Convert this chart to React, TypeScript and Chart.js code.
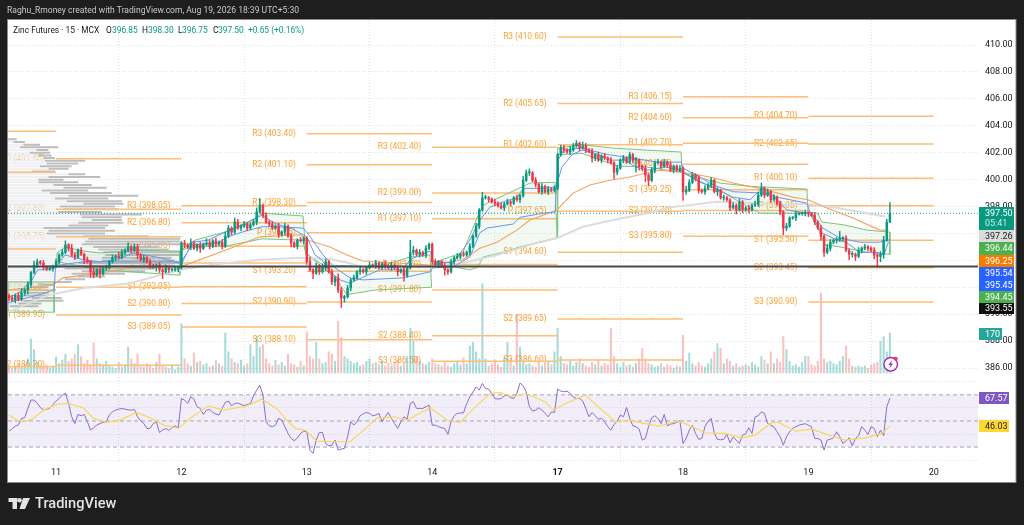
import React, { useEffect, useRef } from "react";
import Chart from "chart.js/auto";

const barsPerDayTicks = [15, 55, 95, 135, 175, 215, 255, 295];
const dayLabels = ["11", "12", "13", "14", "17", "18", "19", "20"];
const priceTicks = [386, 388, 390, 392, 394, 396, 398, 400, 402, 404, 406, 408, 410];
const rsiTicks = [80, 60, 40, 20];

const closes = [
391.2,391.05,391.4,391.1,391.6,391.8,392.2,393.1,393.65,393.9,393.8,393.5,393.35,393.4,393.55,
393.9,394.4,394.6,395.15,394.9,394.4,394.25,394.75,394.45,394.05,393.9,393.15,392.9,393.3,393.0,393.45,393.45,393.9,394.2,394.3,394.2,394.6,394.75,395.0,394.75,395.0,394.4,394.05,394.2,393.9,393.6,393.5,393.65,393.3,393.15,393.45,393.3,393.3,393.35,393.45,
395.3,395.15,395.0,395.3,394.9,395.15,394.9,395.2,395.3,395.05,395.45,395.2,395.35,395.05,395.8,396.4,396.1,396.85,396.4,396.55,396.7,396.4,396.65,396.85,397.6,398.1,397.35,396.85,396.7,396.4,396.55,395.9,396.1,396.55,395.8,395.3,395.05,395.5,395.45,395.65,
393.9,393.3,393.05,393.6,393.15,393.45,393.9,393.15,392.4,392.7,391.8,391.2,391.3,391.95,392.55,392.7,393.15,393.3,393.15,393.45,393.65,393.6,393.8,393.45,393.75,393.6,393.45,393.65,393.45,393.15,393.3,392.85,393.45,394.6,394.75,394.45,394.6,394.4,394.9,395.2,
393.9,393.65,393.9,393.6,393.3,393.15,393.9,394.2,394.3,394.45,394.4,394.6,395.05,395.8,396.55,397.75,398.65,398.65,398.55,398.35,398.25,398.05,397.9,398.2,398.35,398.25,398.65,398.5,398.8,399.95,400.5,400.5,399.95,399.65,399.1,399.5,399.1,399.3,399.2,399.35,
401.85,402.35,402.2,402.05,402.2,402.5,402.7,402.35,402.5,402.2,402.1,401.6,401.85,401.45,401.75,401.6,401.45,401.25,400.55,400.85,401.45,401.6,401.3,401.85,401.45,401.45,401.0,400.85,400.35,399.95,400.7,401.25,401.3,401.0,401.3,401.1,400.7,401.0,400.7,400.85,
399.1,399.2,399.8,400.35,400.1,399.2,399.1,399.35,399.6,399.95,399.1,399.2,398.65,398.65,398.5,397.9,398.1,397.75,398.35,397.75,397.9,397.75,398.1,398.2,398.85,399.35,398.85,399.1,398.5,398.7,398.2,397.6,396.4,396.55,397.15,397.15,397.45,397.45,397.5,397.5,
397.45,397.35,396.85,396.4,395.8,394.6,394.9,395.35,395.5,395.5,395.65,395.65,394.75,394.45,394.45,394.3,394.75,394.9,395.0,394.9,394.75,394.4,394.3,394.45,395.5,396.85,397.5];

const opens = [
391.4,391.2,391.05,391.4,391.1,391.6,391.8,392.2,393.1,393.65,393.9,393.8,393.5,393.35,393.4,
393.55,393.9,394.4,394.6,395.15,394.9,394.4,394.25,394.75,394.45,394.05,393.9,393.15,392.9,393.3,393.0,393.45,393.45,393.9,394.2,394.3,394.2,394.6,394.75,395.0,394.75,395.0,394.4,394.05,394.2,393.9,393.6,393.5,393.65,393.3,393.15,393.45,393.3,393.3,393.35,
393.45,395.3,395.15,395.0,395.3,394.9,395.15,394.9,395.2,395.3,395.05,395.45,395.2,395.35,395.05,395.8,396.4,396.1,396.85,396.4,396.55,396.7,396.4,396.65,396.85,397.6,398.1,397.35,396.85,396.7,396.4,396.55,395.9,396.1,396.55,395.8,395.3,395.05,395.5,395.45,
395.65,393.9,393.3,393.05,393.6,393.15,393.45,393.9,393.15,392.4,392.7,391.8,391.2,391.3,391.95,392.55,392.7,393.15,393.3,393.15,393.45,393.65,393.6,393.8,393.45,393.75,393.6,393.45,393.65,393.45,393.15,393.3,392.85,393.45,394.6,394.75,394.45,394.6,394.4,394.9,
395.2,393.9,393.65,393.9,393.6,393.3,393.15,393.9,394.2,394.3,394.45,394.4,394.6,395.05,395.8,396.55,397.75,398.65,398.65,398.55,398.35,398.25,398.05,397.9,398.2,398.35,398.25,398.65,398.5,398.8,399.95,400.5,400.5,399.95,399.65,399.1,399.5,399.1,399.3,399.2,
399.35,401.85,402.35,402.2,402.05,402.2,402.5,402.7,402.35,402.5,402.2,402.1,401.6,401.85,401.45,401.75,401.6,401.45,401.25,400.55,400.85,401.45,401.6,401.3,401.85,401.45,401.45,401.0,400.85,400.35,399.95,400.7,401.25,401.3,401.0,401.3,401.1,400.7,401.0,400.7,
400.85,399.1,399.2,399.8,400.35,400.1,399.2,399.1,399.35,399.6,399.95,399.1,399.2,398.65,398.65,398.5,397.9,398.1,397.75,398.35,397.75,397.9,397.75,398.1,398.2,398.85,399.35,398.85,399.1,398.5,398.7,398.2,397.6,396.4,396.55,397.15,397.15,397.45,397.45,397.5,
397.5,397.45,397.35,396.85,396.4,395.8,394.6,394.9,395.35,395.5,395.5,395.65,395.65,394.75,394.45,394.45,394.3,394.75,394.9,395.0,394.9,394.75,394.4,394.3,394.45,395.5,396.85];

const upperWicks = [
.1,.2,.1,.2,.3,.1,.2,.1,.3,.2,.1,.2,.1,.2,.1,
.2,.1,.2,.3,.1,.3,.2,.1,.2,.1,.2,.1,.3,.1,.2,.1,.2,.1,.2,.1,.3,.2,.1,.3,.1,.2,.2,.1,.2,.1,.2,.1,.1,.2,.1,.2,.1,.1,.2,.1,
.1,.2,.1,.3,.1,.1,.2,.1,.3,.2,.1,.2,.1,.2,.3,.2,.1,.3,.2,.1,.2,.1,.1,.2,.3,.5,.1,.2,.1,.2,.1,.2,.1,.2,.1,.2,.1,.1,.2,.1,
.1,.3,.1,.2,.1,.3,.2,.1,.2,.1,.3,.2,.1,.2,.1,.2,.1,.2,.1,.1,.2,.1,.2,.1,.1,.2,.1,.2,.1,.2,.1,.2,.1,.9,.3,.1,.2,.1,.2,.1,
.1,.2,.1,.1,.2,.1,.2,.1,.2,.1,.2,.1,.2,.1,.2,.1,.4,.2,.1,.1,.2,.1,.2,.1,.2,.1,.1,.2,.1,.3,.2,.3,.1,.2,.1,.2,.1,.2,.1,.2,
.1,.2,.2,.1,.3,.2,.2,.1,.3,.2,.1,.2,.1,.2,.1,.2,.1,.2,.1,.2,.1,.2,.1,.2,.1,.2,.1,.1,.2,.1,.2,.1,.2,.1,.2,.1,.2,.1,.1,.2,
.1,.3,.2,.2,.1,.2,.1,.2,.1,.2,.1,.2,.1,.2,.1,.1,.2,.1,.2,.1,.1,.2,.1,.2,.2,.4,.1,.2,.1,.2,.1,.2,.1,.2,.1,.1,.2,.1,.1,.2,
.1,.1,.2,.1,.2,.1,.3,.2,.1,.2,.5,.1,.2,.1,.2,.1,.2,.1,.2,.1,.1,.2,.1,.2,.3,.2,.8];

const lowerWicks = [
.2,.1,.2,.1,.1,.2,.3,.2,.1,.2,.1,.2,.1,.1,.2,
.1,.2,.1,.1,.2,.1,.2,.1,.1,.3,.1,.4,.2,.1,.3,.1,.2,.1,.1,.2,.1,.1,.2,.1,.2,.1,.3,.1,.2,.1,.2,.1,.3,.2,.5,.1,.2,.1,.1,.2,
.1,.2,.1,.2,.1,.2,.3,.1,.1,.2,.1,.2,.1,.2,.1,.1,.2,.1,.1,.2,.1,.2,.1,.1,.2,.1,.2,.1,.2,.1,.1,.2,.1,.2,.1,.3,.1,.2,.1,.2,
.2,.1,.4,.1,.2,.1,.2,.1,.2,.3,.2,.7,.3,.1,.2,.1,.1,.2,.1,.2,.1,.1,.2,.1,.1,.2,.1,.2,.1,.3,.1,.4,.1,.1,.2,.1,.2,.1,.2,.1,
.2,.1,.2,.1,.4,.2,.1,.2,.1,.2,.1,.1,.2,.1,.1,.2,.1,.1,.2,.1,.2,.1,.1,.2,.1,.2,.1,.1,.2,.1,.1,.2,.1,.2,.1,.2,.1,.2,.1,.1,
.1,.1,.2,.1,.2,.1,.1,.2,.1,.2,.1,.3,.2,.1,.2,.1,.2,.1,.5,.2,.1,.2,.1,.1,.2,.9,.3,.2,.5,.4,.1,.2,.1,.2,.1,.2,.1,.2,.1,.1,
.65,.2,.1,.1,.2,.2,.1,.2,.1,.2,.1,.3,.1,.2,.1,.2,.1,.3,.1,.2,.1,.2,.1,.1,.2,.1,.2,.1,.2,.1,.1,.2,.5,.2,.1,.1,.2,.1,.1,.2,
.2,.1,.2,.1,.3,.3,.1,.2,.1,.2,.1,.2,.1,.4,.2,.3,.1,.2,.1,.2,.1,.3,.8,.4,.3,.1,.05];

const volumes = [
30,20,25,40,22,35,60,145,100,45,30,25,35,20,30,
68,40,55,80,50,60,80,120,70,40,55,30,128,60,40,35,50,30,25,20,45,25,35,110,60,40,80,30,25,40,30,20,45,80,30,25,20,35,15,25,
210,60,40,30,85,45,50,35,40,25,30,55,40,30,170,90,60,45,40,55,30,40,120,70,155,110,120,60,40,30,55,35,45,30,80,40,35,25,50,30,
175,70,60,130,60,40,45,90,80,50,220,150,70,60,50,40,45,30,35,50,60,40,45,35,50,30,40,30,45,55,30,40,70,190,135,70,50,40,35,45,
60,40,35,30,45,30,25,40,50,35,65,40,115,130,90,60,380,60,30,40,55,35,25,65,130,60,30,250,110,45,35,40,30,25,45,30,40,50,35,90,
190,70,40,35,50,30,45,60,40,30,25,45,35,55,30,40,35,190,70,40,25,45,30,35,25,40,60,105,60,40,35,25,30,40,25,35,30,20,30,25,
160,50,85,40,30,45,30,25,40,60,90,125,105,40,60,50,30,40,25,30,35,30,45,35,25,70,55,40,90,40,60,45,155,100,50,30,35,25,45,70,
70,35,30,50,340,60,45,50,40,35,50,70,115,60,30,25,30,25,30,20,35,40,45,135,155,90,170];

const rsiValues = [
42.2,44,46,47,52,52.5,59.6,66,66,63.5,60.3,58.5,59,59.6,62.5,
65.2,67.2,69.8,71.3,63.4,53.2,48,55,54,55,49.4,43,44.8,46.8,48,49,49.4,54.5,57,58.3,59,59.6,59,58.5,58.3,58.8,53.2,50,48,44.3,44.3,48,49.4,41.2,43,44.3,42.8,44.8,46.3,44.8,
67.2,66,63.4,68.5,66.7,60.9,59.6,55,58.3,58.8,56.5,55.3,54.5,59.6,64.2,65.2,61.6,63.4,63.7,62.7,61.6,62.7,63.2,69.3,73.6,77.4,69.8,49.4,46.3,45.6,46.8,52,50.7,45.6,40.5,36.6,34.8,37,40.5,42.2,
41.7,27.7,25.2,35.4,41.2,41.2,32.8,31,31.5,35.4,27.7,28.5,29,37.9,49.4,46.8,49.4,54,55.5,56.5,55.8,54,54.5,55.8,49.4,53.2,56.5,52,48,44.3,49.4,53.2,51.4,63.4,64.7,59.6,59.6,59.6,60.9,62.1,
46.8,46.8,45.6,44.8,44.3,39.7,49.4,54,55.8,56,56.3,63.4,68.5,72.3,76.2,73.6,78.7,74.9,74.4,71,67.2,66.7,67.2,69.3,69.8,67.8,67.2,71,79,77,72.3,60.9,57.6,58.3,60.1,58.3,55.8,53.2,57,56.5,
74.4,72.9,72.3,72.9,71,68.3,67.2,67.2,65.2,59.6,53.2,56.5,54,51.4,52,49.4,45.6,43,47.4,49.9,54.5,53.2,60.4,52,46.3,45.6,43.8,35.4,36.6,45.6,52.4,54,52,48,55,46.3,47.6,48,49,50.4,
32.8,36.6,43,46.8,40.5,36,36.6,45.6,49.9,52,40.5,36,35.6,36,39.7,33.3,37.7,35.4,32.8,39.2,40.2,44.8,40.5,53.2,54,57,55.8,48,46.8,45.6,41.7,37.9,31.5,37.9,41.7,44.3,45.6,46.8,47.4,47.9,
46.8,45.6,36.6,36.6,35.4,27.7,35.4,36,37.1,41.7,37.9,32.8,34.6,37.1,31,36.6,38.7,45.6,43,39.7,45.6,44.3,37.9,43,38.7,60.9,67.57];

const rsiMaBars = [0,2.4,5.6,7.8,11,15.2,18.9,23.7,26.9,31.2,35.4,40.7,45,49.3,54,57.8,63.6,68.4,75.9,80.6,85.4,88.6,91.3,94.5,98.2,103.5,108.8,112,117.3,122.7,126.9,134.4,139.7,143.9,148.2,153.5,156.7,160.5,164.7,171,173.7,177.5,183.8,189.2,193.4,197.7,203,207.2,213.6,216.8,222.1,228.5,233.8,238,243.4,245.5,250.8,256.1,261.5,266.8,273.1,278.5,281];
const rsiMaValues = [54.5,50.7,50,52,58.3,62.7,63.4,60.1,52,48.9,50.7,56.5,52.4,46.8,44.3,52,61.6,58.3,61.6,66.7,59.6,50.7,44.3,43,34.6,34.1,34.1,40.5,52,53.2,50.7,60.1,50.7,48.7,59.6,71,71.8,68.5,71,64.7,58.3,63.4,69.8,58.3,49.4,50.7,48,46,50,46.8,41,40.5,37.1,39.2,48.9,48.9,42.2,43.8,39.2,35.4,37.1,40.5,46.03];

const blueFastBars = [-0.3,3.5,7.3,9.2,12.4,14.7,15.3,17.9,23.6,29,34.5,39.6,48.2,54.5,54.9,58.4,63.5,68.9,74.3,80.7,84.8,90.3,93.8,95,97.6,99.8,102.4,105.6,108.8,112.9,118.3,125.7,127.9,134.3,135.2,141.6,147,150.2,153.4,157.6,162,164,170.3,174.5,175.1,176.4,179.6,182.8,186.9,192.3,196.5,199.7,203.8,209.2,214,215,220.4,224.6,230.9,236.4,240.5,245,248.2,254.5,254.9,257,259.3,262.8,267.3,271.4,276.9,279.1,280.4,281];
const blueFastValues = [391.2,391.65,392.55,393.3,393.3,393.45,393.65,394.4,394.05,393.9,394.05,394.55,394.2,393.8,393.65,395.35,395.5,396.1,396.65,397.35,396.75,396.35,395.9,395.75,394.4,394.05,393.15,392.55,392.3,392.75,393.3,393.3,394.05,394.7,393.95,393.8,395.5,397,397.95,398.35,398.65,399.35,399.35,399.45,399.95,400.95,401.85,402.2,401.95,401.45,401.45,400.95,400.7,400.95,400.7,400.55,399.8,399.45,398.7,398.5,399.45,398.5,397.75,397.5,397.6,397,396.05,395.65,395.3,394.6,394.6,394.4,395.3,395.45];
const blueSlowBars = [-0.3,9.6,14.4,14.8,16.3,23.6,39.6,54.5,54.9,58.4,66.7,69.9,74.3,80.7,84.8,93.8,95,100.2,104,108.8,112.9,125.7,134.3,135.2,141.6,147,150.2,152.5,160.8,163,170.3,174.2,175.1,177,182.8,190.1,198.7,207,214.4,215,220.4,224.6,230.9,240.5,245,254.5,255.5,259.6,265.1,271.4,277.8,281];
const blueSlowValues = [390.85,391.45,391.8,393.45,393.65,393.9,393.9,393.9,393.9,395.15,395.3,395.75,396.1,396.5,396.5,396.4,396.1,394.4,393.45,392.7,392.55,392.7,393.15,393.45,393.5,394.25,396.05,396.4,396.7,397.2,397.5,397.6,401.45,402.2,402.35,401.9,401.6,401.3,401.3,400.85,400.2,399.6,399.1,399,398.7,398.25,397.6,396.4,395.65,395.35,395.35,395.54];

const orangeBars = [-0.3,14,17.2,29,39.6,54.5,67.3,80.1,92.9,95.4,102.4,107.8,112.9,123.8,134.3,144.8,150.2,155.7,162,166.2,174.8,179.9,185.3,191.7,198.1,207,215,223.6,231,239.5,250,254.9,260.9,269.2,277.8,280.5];
const orangeValues = [391.8,392.15,392.7,393.05,393.5,393.5,394.6,395.75,395.9,395.5,395,394.4,393.95,393.8,393.65,394.05,394.9,395.35,396.25,397,397.75,399,399.6,399.95,400.2,400.7,400.55,400.2,399.75,399.35,398.7,398.5,397.9,397.15,396.25,396.25];
const grayBars = [-0.3,13,24.2,38.6,54.5,67.3,80.1,92.9,102.4,108.4,113,120.6,134.3,144.8,155.7,166.2,174.8,183.1,192.7,203.5,210.8,215,225.8,240.3,246.9,254.5,262.8,271.4,279.4];
const grayValues = [390.15,391.45,391.95,392.3,393.3,393.75,394.05,394.2,394.1,393.8,393.5,393.5,393.5,393.8,394.4,395.15,395.65,396.5,397,397.5,397.95,398.05,398.35,398.25,398.1,398.2,397.95,397.6,397.26];

const bandDay10Bars = [-0.3,14.4,14.4,-0.3];
const bandDay10Values = [392.4,392.4,390.15,390.15];
const bandDay11Bars = [15.3,17.9,23.6,29,39.6,54.5,54.5,29,15.3];
const bandDay11Values = [394.55,395,394.7,394.55,394.75,394.7,392.9,393.3,393.9];
const bandDay12Bars = [54.9,59.3,68.9,76.2,80.7,93.8,94.7,93.8,80.7,68.9,58.4];
const bandDay12Values = [394.75,395.5,396.1,396.75,397.5,397.3,394.4,395.5,395.6,395.05,395];
const bandDay13Bars = [95.4,100.2,108.8,116.8,127.9,134.3,134.8,134.3,116.8,107.8,104];
const bandDay13Values = [394.4,393.65,393.6,393.45,394.25,394.4,392,392,391.8,391.45,392.7];
const bandDay14Bars = [135.2,144.8,149.3,151.2,166.2,174.2,174.8,174.2,163,157.6,151.2,149.6,147];
const bandDay14Values = [393.8,394.6,397.15,398.1,399.75,399.8,395.65,395.65,395,394.6,394.25,393.5,393.3];
const bandDay17Bars = [175.1,182.8,192.3,202.9,214.4,214.7,214.4,202.9,194.3,186.9,182.8,175.1,174.9];
const bandDay17Values = [402.35,402.6,402.35,402.2,402.05,400.55,400.55,400.95,401,401.6,401.95,401.85,395.65];
const bandDay18Bars = [215,221,226.8,236.4,254.5,254.9,254.5,239.6,226.8];
const bandDay18Values = [400.5,400.1,399.75,399.5,399.3,397.6,397.5,397.5,399.15];
const bandDay19Bars = [254.9,258,259.3,266,273.7,281,281,273.7,265.1,260.3,258.7,255.5];
const bandDay19Values = [397.6,397.5,396.85,396.65,396.25,396.1,394.45,394.6,395,395.15,396.05,397.5];

const vpPrices = [403,402.8,402.6,402.4,402.2,402,401.8,401.6,401.4,401.2,401,400.8,400.6,400.4,400.2,400,399.8,399.6,399.4,399.2,399,398.8,398.6,398.4,398.2,398,397.8,397.6,397.4,397.2,397,396.8,396.6,396.4,396.2,396,395.8,395.6,395.4,395.2,395,394.8,394.6,394.4,394.2,394,393.8,393.6,393.4,393.2,393,392.8,392.6,392.4,392.2,392,391.8,391.6,391.4,391.2,391,390.8,390.6];
const vpUp = [0,1.7,4.9,3.8,9.1,7,9.7,11.3,11.8,12.3,10.2,12.9,7.6,19.3,12.9,9.7,9.7,14.5,17.7,10.7,13.4,19.3,15,18.7,24,16.6,17.7,16,23,23.5,26.7,22.4,19.3,11.3,12.9,12.3,24,25.6,24.6,23.5,27.2,28.8,30.4,31,29.9,29.9,22.4,17.1,18,23.5,20.3,22.4,18.2,15,9.7,7.6,5.4,5.4,4.4,7.6,4.9,3.3,0.6];
const vpTotal = [2.8,5.4,10.2,16,12.9,13.4,13.9,15,24.6,22.4,20.3,19.3,15,24.6,29.4,17.7,22.4,26.7,31.5,25.6,33.1,41.6,32,36.3,36.8,34.1,35.2,29.9,42.7,36.3,36.3,36.8,32,31,34.1,31,44.8,54.9,54.9,54.9,48,51,54.9,54.9,52.2,53.3,54.9,53.3,46.9,43.7,37.3,31,24.6,20.3,15,12.9,12.9,13,12.9,17.1,17.7,10.7,9.7];

const pivotNames = ["R3", "R2", "R1", "P", "S1", "S2", "S3"];
const pivotDay10 = [403.6, 400.55, 394.85, 391.8, 386.1];
const pivotDay11 = [401.55, 397.8, 395.75, 392.0, 389.95, 386.2];
const pivotDay12 = [398.05, 396.8, 395.05, 393.8, 392.05, 390.8, 389.05];
const pivotDay13 = [403.4, 401.1, 398.3, 396.05, 393.2, 390.9, 388.1];
const pivotDay14 = [402.4, 399.0, 397.1, 393.7, 391.8, 388.4, 386.5];
const pivotDay17 = [410.6, 405.65, 402.6, 397.65, 394.6, 389.65, 386.6];
const pivotDay18 = [406.15, 404.6, 402.7, 401.15, 399.25, 397.7, 395.8];
const pivotDay19 = [404.7, 402.65, 400.1, 398.05, 395.5, 393.45, 390.9];

const lastClose = 397.5;
const horizontalLevel = 393.55;
const rsiLevels = [70, 50, 30];

const X_MIN = -0.32;
const X_MAX = 309.1;
const FONT = "Roboto, 'Liberation Sans', sans-serif";
const GREEN = "#089981";
const RED = "#f23645";
const pts = (bars: number[], vals: number[]) => bars.map((b, i) => ({ x: b, y: vals[i] }));

const priceTags = [
  { t: "397.50", bg: "#089981", fg: "#fff", a: 207, b: 230, sub: "05:41", w: 35 },
  { t: "397.26", bg: "#dcdcdc", fg: "#222", a: 230, b: 242, w: 35 },
  { t: "396.44", bg: "#4caf50", fg: "#fff", a: 242, b: 255, w: 35 },
  { t: "396.25", bg: "#f57c00", fg: "#fff", a: 255, b: 267, w: 35 },
  { t: "395.54", bg: "#2962ff", fg: "#fff", a: 267, b: 279, w: 35 },
  { t: "395.45", bg: "#2962ff", fg: "#fff", a: 279, b: 291, w: 35 },
  { t: "394.45", bg: "#4caf50", fg: "#fff", a: 291, b: 303, w: 35 },
  { t: "393.55", bg: "#0f0f0f", fg: "#fff", a: 303, b: 314, w: 35 },
  { t: "170", bg: "#26a69a", fg: "#fff", a: 328, b: 340, w: 23 },
  { t: "67.57", bg: "#7e57c2", fg: "#fff", a: 392, b: 404, w: 30 },
  { t: "46.03", bg: "#fdd835", fg: "#222", a: 420, b: 432, w: 30 },
];

const legendRuns = [
  { t: "Zinc Futures · 15 · MCX", x: 13, c: "#131722" },
  { t: "O", x: 106, c: "#131722" }, { t: "396.85", x: 112, c: GREEN },
  { t: "H", x: 142, c: "#131722" }, { t: "398.30", x: 148, c: GREEN },
  { t: "L", x: 178, c: "#131722" }, { t: "396.75", x: 182, c: GREEN },
  { t: "C", x: 213, c: "#131722" }, { t: "397.50", x: 218, c: GREEN },
  { t: "+0.65 (+0.16%)", x: 248, c: GREEN },
];

const frame = {
  id: "frame",
  beforeDraw(chart: any) {
    const c = chart.ctx;
    c.save();
    c.fillStyle = "#1e1e1e";
    c.fillRect(0, 0, 1024, 525);
    c.fillStyle = "#ffffff";
    c.fillRect(7.5, 19.5, 1008.5, 463);
    c.strokeStyle = "#8a8a8a";
    c.strokeRect(7.5, 19.5, 1008.5, 463);
    c.restore();
  },
  beforeDatasetsDraw(chart: any) {
    const c = chart.ctx;
    const x = chart.scales.x;
    const y = chart.scales.y;
    const a = chart.chartArea;
    c.save();
    c.beginPath();
    c.rect(a.left, a.top, a.right - a.left, a.bottom - a.top);
    c.clip();
    c.font = `8.4px ${FONT}`;
    c.fillStyle = "#ffa033";
    c.textAlign = "right";
    c.textBaseline = "middle";
    const draw = (names: string[], vals: number[], startBar: number) => {
      vals.forEach((v, i) => {
        c.fillText(`${names[i]} (${v.toFixed(2)})`, x.getPixelForValue(startBar) - 11, y.getPixelForValue(v));
      });
    };
    draw(["R3", "R2", "R1", "P", "S1", "S2"], pivotDay11, barsPerDayTicks[0]);
    draw(pivotNames, pivotDay12, barsPerDayTicks[1]);
    draw(pivotNames, pivotDay13, barsPerDayTicks[2]);
    draw(pivotNames, pivotDay14, barsPerDayTicks[3]);
    draw(pivotNames, pivotDay17, barsPerDayTicks[4]);
    draw(pivotNames, pivotDay18, barsPerDayTicks[5]);
    draw(pivotNames, pivotDay19, barsPerDayTicks[6]);
    c.restore();
  },
  afterDraw(chart: any) {
    const c = chart.ctx;
    c.save();
    c.textBaseline = "middle";
    priceTags.forEach((g) => {
      c.fillStyle = g.bg;
      c.fillRect(979, g.a, g.w, g.b - g.a);
      c.fillStyle = g.fg;
      c.font = `9px ${FONT}`;
      c.textAlign = "left";
      if (g.sub) {
        c.fillText(g.t, 985, g.a + 6.5);
        c.globalAlpha = 0.8;
        c.fillText(g.sub, 985, g.a + 17);
        c.globalAlpha = 1;
      } else {
        c.fillText(g.t, 985, (g.a + g.b) / 2 + 0.5);
      }
    });
    c.textAlign = "left";
    c.font = `8.55px ${FONT}`;
    c.fillStyle = "#c9c9c9";
    c.fillText("Raghu_Rmoney created with TradingView.com, Aug 19, 2026 18:39 UTC+5:30", 7, 11);
    c.font = `8.4px ${FONT}`;
    legendRuns.forEach((r) => {
      c.fillStyle = r.c;
      c.fillText(r.t, r.x, 30.5);
    });
    c.beginPath();
    c.arc(890.7, 364.3, 6.8, 0, Math.PI * 2);
    c.fillStyle = "#ffffff";
    c.fill();
    c.lineWidth = 1.4;
    c.strokeStyle = "#9c27b0";
    c.stroke();
    c.beginPath();
    c.moveTo(892, 360);
    c.lineTo(888.5, 365);
    c.lineTo(890.6, 365);
    c.lineTo(889.5, 368.5);
    c.lineTo(893, 363.5);
    c.lineTo(890.9, 363.5);
    c.closePath();
    c.fillStyle = "#9c27b0";
    c.fill();
    c.beginPath();
    c.arc(895.7, 358.7, 2, 0, Math.PI * 2);
    c.fillStyle = RED;
    c.fill();
    c.fillStyle = "#e4e4e4";
    c.fillRect(8.5, 498, 9, 4);
    c.fillRect(12.5, 498, 4.5, 11);
    c.beginPath();
    c.arc(19.6, 500.2, 2.2, 0, Math.PI * 2);
    c.fill();
    c.beginPath();
    c.moveTo(23, 498);
    c.lineTo(30, 498);
    c.lineTo(25, 509);
    c.lineTo(19.5, 509);
    c.closePath();
    c.fill();
    c.font = `500 14.6px ${FONT}`;
    c.fillText("TradingView", 35, 504);
    c.restore();
  },
};

function buildPivotPoints() {
  const out: any[] = [];
  const add = (vals: number[], a: number, b: number) =>
    vals.forEach((v) => {
      out.push({ x: a, y: v }, { x: b, y: v }, { x: b, y: NaN });
    });
  add(pivotDay10, X_MIN, barsPerDayTicks[0]);
  add(pivotDay11, barsPerDayTicks[0], barsPerDayTicks[1]);
  add(pivotDay12, barsPerDayTicks[1], barsPerDayTicks[2]);
  add(pivotDay13, barsPerDayTicks[2], barsPerDayTicks[3]);
  add(pivotDay14, barsPerDayTicks[3], barsPerDayTicks[4]);
  add(pivotDay17, barsPerDayTicks[4], barsPerDayTicks[5]);
  add(pivotDay18, barsPerDayTicks[5], barsPerDayTicks[6]);
  add(pivotDay19, barsPerDayTicks[6], barsPerDayTicks[7]);
  return out;
}

function vpPoints(from: number[] | null, to: number[]) {
  const out: any[] = [];
  vpPrices.forEach((p, i) => {
    const a = X_MIN + (from ? from[i] : 0);
    const b = X_MIN + to[i];
    out.push({ x: a, y: p }, { x: b, y: p }, { x: b, y: NaN });
  });
  return out;
}

const line = (data: any[], color: string, width: number, order: number, extra: any = {}) => ({
  type: "line",
  data,
  borderColor: color,
  borderWidth: width,
  pointRadius: 0,
  tension: 0,
  fill: false,
  order,
  xAxisID: "x",
  yAxisID: "y",
  ...extra,
});

export default function App() {
  const ref = useRef<HTMLCanvasElement | null>(null);
  useEffect(() => {
    document.body.style.margin = "0";
    document.body.style.background = "#1e1e1e";
    const idx = closes.map((_, i) => i);
    const up = idx.map((i) => closes[i] >= opens[i]);
    const candleColors = up.map((u) => (u ? GREEN : RED));
    const volColors = up.map((u) => (u ? "rgba(38,166,154,0.4)" : "rgba(239,83,80,0.36)"));
    const bands: [number[], number[]][] = [
      [bandDay10Bars, bandDay10Values], [bandDay11Bars, bandDay11Values], [bandDay12Bars, bandDay12Values],
      [bandDay13Bars, bandDay13Values], [bandDay14Bars, bandDay14Values], [bandDay17Bars, bandDay17Values],
      [bandDay18Bars, bandDay18Values], [bandDay19Bars, bandDay19Values],
    ];
    const datasets: any[] = [
      line([{ x: X_MIN, y: horizontalLevel }, { x: X_MAX, y: horizontalLevel }], "#4a4a4a", 2, 1),
      { type: "bar", data: idx.map((i) => ({ x: i, y: [opens[i], closes[i]] })), backgroundColor: candleColors, barThickness: 1.8, grouped: false, minBarLength: 1, order: 2, xAxisID: "x", yAxisID: "y" },
      { type: "bar", data: idx.map((i) => ({ x: i, y: [Math.min(opens[i], closes[i]) - lowerWicks[i], Math.max(opens[i], closes[i]) + upperWicks[i]] })), backgroundColor: candleColors, barThickness: 0.8, grouped: false, order: 3, xAxisID: "x", yAxisID: "y" },
      line(pts(blueFastBars, blueFastValues), "#6b93f5", 1, 4),
      line(pts(blueSlowBars, blueSlowValues), "#6b93f5", 1, 5),
      line(pts(orangeBars, orangeValues), "#f5a25d", 1.1, 6),
      line(pts(grayBars, grayValues), "#dcdcdc", 2, 7),
      ...bands.map(([b, v], i) => {
        const p = pts(b, v);
        return line([...p, p[0]], "#7cc47f", 1, 10 + i, { fill: "shape", backgroundColor: "rgba(76,175,80,0.07)" });
      }),
      line([{ x: X_MIN, y: lastClose }, { x: X_MAX, y: lastClose }], GREEN, 1, 20, { borderDash: [1, 2] }),
      line(buildPivotPoints(), "#ffbe76", 1.5, 21),
      line(vpPoints(vpUp, vpTotal), "#bdbdbd", 2, 22),
      line(vpPoints(null, vpUp), "#eef0f2", 2, 23),
      { type: "bar", data: idx.map((i) => ({ x: i, y: volumes[i] })), backgroundColor: volColors, barThickness: 1.4, grouped: false, order: 24, xAxisID: "x", yAxisID: "yVol" },
      line(idx.map((i) => ({ x: i, y: rsiValues[i] })), "#8e6bcf", 1, 30, { yAxisID: "yRsi" }),
      line(pts(rsiMaBars, rsiMaValues), "#f9d65c", 1.2, 29, { yAxisID: "yRsi" }),
      ...rsiLevels.map((v, i) =>
        line([{ x: X_MIN, y: v }, { x: X_MAX, y: v }], "#a5a7ad", 1, 31 + i, { yAxisID: "yRsi", borderDash: [4, 3] })
      ),
      line(
        [{ x: X_MIN, y: rsiLevels[0] }, { x: X_MAX, y: rsiLevels[0] }, { x: X_MAX, y: rsiLevels[2] }, { x: X_MIN, y: rsiLevels[2] }],
        "rgba(0,0,0,0)", 0, 35, { yAxisID: "yRsi", fill: "shape", backgroundColor: "rgba(126,87,194,0.1)" }
      ),
    ];
    const gridCfg = { color: "#dfe1e6", lineWidth: 1, drawTicks: false };
    const border = { display: false, dash: [1, 2] };
    const tickFont = { family: FONT, size: 9 };
    const chart = new Chart(ref.current as HTMLCanvasElement, {
      data: { datasets },
      plugins: [frame],
      options: {
        responsive: false,
        animation: false,
        events: [],
        layout: { padding: { left: 8, right: 8, top: 20, bottom: 43 }, autoPadding: false },
        plugins: { legend: { display: false }, tooltip: { enabled: false }, title: { display: false } },
        scales: {
          x: {
            type: "linear",
            min: X_MIN,
            max: X_MAX,
            offset: false,
            grid: gridCfg,
            border,
            afterBuildTicks: (s: any) => { s.ticks = barsPerDayTicks.map((v) => ({ value: v })); },
            afterFit: (s: any) => { s.height = 20; },
            ticks: {
              autoSkip: false,
              maxRotation: 0,
              padding: 5,
              color: "#131722",
              font: (ctx: any) => ({ family: FONT, size: 9, weight: ctx.tick && ctx.tick.value === 175 ? "bold" : "normal" }),
              callback: (v: any) => dayLabels[barsPerDayTicks.indexOf(v)],
            },
          },
          y: {
            type: "linear",
            position: "right",
            weight: 1,
            min: 379.02,
            max: 411.86,
            grid: gridCfg,
            border,
            afterBuildTicks: (s: any) => { s.ticks = priceTicks.map((v) => ({ value: v })); },
            afterFit: (s: any) => { s.width = 38; },
            ticks: { autoSkip: false, padding: 7, color: "#131722", font: tickFont, callback: (v: any) => Number(v).toFixed(2) },
          },
          yRsi: {
            type: "linear",
            position: "right",
            weight: 0,
            min: 18.6,
            max: 356.8,
            grid: gridCfg,
            border,
            afterBuildTicks: (s: any) => { s.ticks = rsiTicks.map((v) => ({ value: v })); },
            afterFit: (s: any) => { s.width = 0; },
            ticks: { autoSkip: false, padding: 7, color: "#131722", font: tickFont, callback: (v: any) => (v === 20 ? "" : Number(v).toFixed(2)) },
          },
          yVol: { type: "linear", display: false, min: -378.25, max: 1500.25 },
        },
      } as any,
    } as any);
    return () => chart.destroy();
  }, []);
  return (
    <div style={{ position: "absolute", left: 0, top: 0, width: 1024, height: 525 }}>
      <canvas ref={ref} width={1024} height={525} style={{ display: "block", width: 1024, height: 525 }} />
    </div>
  );
}
